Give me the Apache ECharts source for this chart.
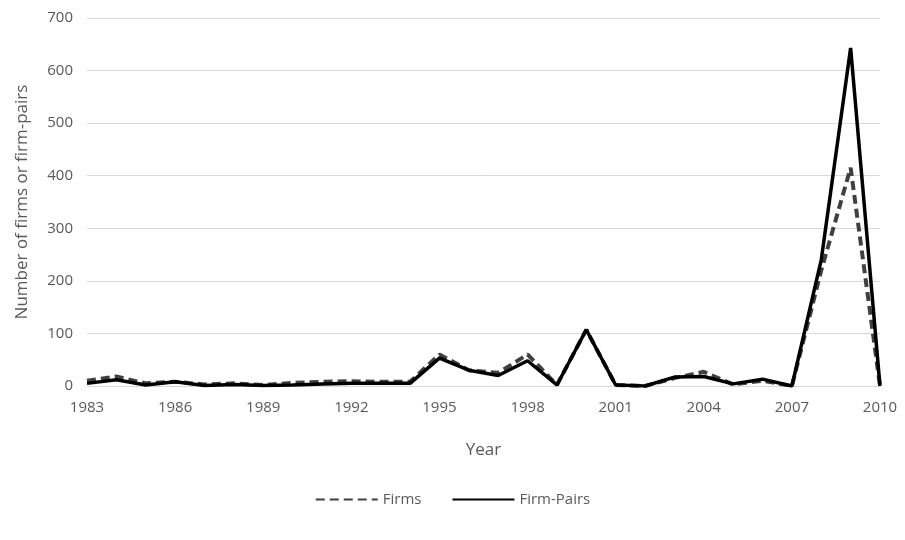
<!DOCTYPE html>
<html><head><meta charset="utf-8">
<script src="https://cdn.jsdelivr.net/npm/echarts@6/dist/echarts.min.js"></script>
<style>html,body{margin:0;background:#fff}#c{width:905px;height:540px}</style>
</head><body><div id="c"></div>
<script>
const years = [];
for (let y = 1983; y <= 2010; y++) years.push(String(y));
const firms = [10,18,5,8,3,5,2,6,8,9,8,8,60,30,25,60,2,107,2,0,15,27,3,10,0,220,415,0];
const firmPairs = [5,12,2,8,1,3,1,2,4,5,5,5,53,30,20,48,2,107,2,0,17,18,4,13,0,240,643,0];

const chart = echarts.init(document.getElementById('c'));
const txt = { color: '#595959', fontFamily: '"Open Sans", sans-serif', fontSize: 15 };
chart.setOption({
  animation: false,
  grid: { left: 87, right: 25, top: 18, bottom: 154 },
  legend: {
    bottom: 28, itemWidth: 62, itemHeight: 10, itemGap: 30, textStyle: txt,
    itemStyle: { opacity: 0 },
    data: ['Firms', 'Firm-Pairs']
  },
  xAxis: {
    type: 'category', data: years, boundaryGap: false,
    name: 'Year', nameLocation: 'middle', nameGap: 56, nameTextStyle: Object.assign({}, txt, { fontSize: 17 }),
    axisLine: { lineStyle: { color: '#d9d9d9' } }, axisTick: { show: false },
    axisLabel: Object.assign({ interval: 2, margin: 14 }, txt)
  },
  yAxis: {
    type: 'value', min: 0, max: 700, interval: 100,
    name: 'Number of firms or firm-pairs', nameLocation: 'middle', nameGap: 56, nameTextStyle: Object.assign({}, txt, { fontSize: 17 }),
    axisLabel: Object.assign({ margin: 14 }, txt),
    splitLine: { lineStyle: { color: '#d9d9d9' } }
  },
  series: [
    { name: 'Firms', type: 'line', data: firms, symbol: 'none', lineStyle: { color: '#404040', width: 4, type: [9, 5] }, itemStyle: { color: '#404040' } },
    { name: 'Firm-Pairs', type: 'line', data: firmPairs, symbol: 'none', lineStyle: { color: '#000', width: 3.5 }, itemStyle: { color: '#000' } }
  ]
});
</script></body></html>
